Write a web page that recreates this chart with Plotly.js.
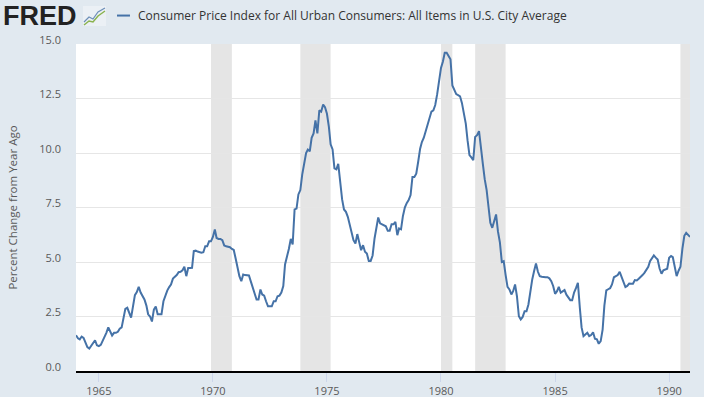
<!DOCTYPE html>
<html>
<head>
<meta charset="utf-8">
<script src="https://cdn.plot.ly/plotly-3.0.1.min.js"></script>
<style>
  html, body { margin: 0; padding: 0; background: #e1e9f0; }
  #chart { width: 704px; height: 397px; }
</style>
</head>
<body>
<div id="chart"></div>
<script>
// Consumer Price Index, percent change from year ago, monthly (Jan..Dec)
const startYear = 1964;
const y1964 = [1.64, 1.50, 1.45, 1.58, 1.52, 1.32, 1.10, 1.03, 1.14, 1.26, 1.41, 1.18];
const y1965 = [1.14, 1.20, 1.37, 1.50, 1.75, 2.00, 1.83, 1.63, 1.75, 1.75, 1.80, 1.94];
const y1966 = [2.00, 2.55, 2.85, 2.90, 2.67, 2.45, 2.95, 3.48, 3.62, 3.86, 3.60, 3.45];
const y1967 = [3.28, 3.00, 2.60, 2.50, 2.27, 2.82, 2.96, 2.60, 2.60, 2.60, 3.20, 3.45];
const y1968 = [3.69, 3.85, 3.97, 4.24, 4.30, 4.40, 4.53, 4.55, 4.62, 4.78, 4.35, 4.72];
const y1969 = [4.72, 4.73, 5.50, 5.52, 5.48, 5.45, 5.43, 5.45, 5.72, 5.72, 5.95, 5.95];
const y1970 = [6.15, 6.49, 6.10, 6.06, 6.06, 6.00, 5.76, 5.72, 5.70, 5.68, 5.60, 5.55];
const y1971 = [5.15, 4.66, 4.35, 4.12, 4.43, 4.40, 4.38, 4.38, 4.10, 3.85, 3.55, 3.28];
const y1972 = [3.28, 3.74, 3.51, 3.46, 3.20, 2.97, 2.97, 2.97, 3.20, 3.20, 3.43, 3.46];
const y1973 = [3.60, 3.90, 4.89, 5.20, 5.60, 6.06, 5.80, 7.41, 7.45, 8.10, 8.30, 9.01];
const y1974 = [9.50, 10.00, 10.16, 10.08, 10.70, 10.90, 11.50, 10.90, 11.96, 11.90, 12.22, 12.10];
const y1975 = [11.80, 11.20, 10.40, 10.16, 9.30, 9.25, 9.50, 8.63, 7.87, 7.41, 7.30, 7.07];
const y1976 = [6.70, 6.23, 6.00, 5.85, 6.28, 5.90, 5.54, 5.77, 5.47, 5.39, 5.05, 5.05];
const y1977 = [5.30, 6.08, 6.46, 7.04, 6.77, 6.72, 6.69, 6.64, 6.43, 6.43, 6.73, 6.73];
const y1978 = [6.84, 6.23, 6.54, 6.50, 7.10, 7.50, 7.70, 7.84, 8.07, 8.90, 8.90, 9.05];
const y1979 = [9.60, 10.20, 10.50, 10.70, 11.00, 11.30, 11.70, 11.90, 11.96, 12.20, 12.70, 13.40];
const y1980 = [13.90, 14.20, 14.60, 14.60, 14.45, 14.30, 13.10, 12.90, 12.70, 12.65, 12.60, 12.30];
const y1981 = [11.90, 11.35, 10.59, 9.90, 9.80, 9.67, 10.74, 10.82, 11.00, 10.10, 9.50, 8.80];
const y1982 = [8.30, 7.50, 6.80, 6.57, 6.90, 7.18, 6.40, 5.90, 5.00, 5.04, 4.40, 3.86];
const y1983 = [3.74, 3.51, 3.66, 3.97, 3.43, 2.51, 2.36, 2.48, 2.74, 2.74, 3.05, 3.74];
const y1984 = [4.20, 4.60, 4.93, 4.55, 4.35, 4.32, 4.30, 4.30, 4.30, 4.25, 4.12, 3.90];
const y1985 = [3.54, 3.66, 3.86, 3.59, 3.65, 3.71, 3.50, 3.35, 3.25, 3.25, 3.60, 3.80];
const y1986 = [4.05, 2.90, 2.00, 1.60, 1.70, 1.75, 1.60, 1.65, 1.78, 1.48, 1.45, 1.25];
const y1987 = [1.37, 1.90, 3.00, 3.70, 3.75, 3.80, 3.97, 4.30, 4.35, 4.40, 4.55, 4.30];
const y1988 = [4.05, 3.85, 3.90, 4.01, 4.00, 4.00, 4.17, 4.15, 4.23, 4.30, 4.40, 4.50];
const y1989 = [4.65, 4.78, 5.04, 5.20, 5.30, 5.20, 5.11, 4.70, 4.46, 4.62, 4.65, 4.69];
const y1990 = [5.19, 5.27, 5.22, 4.80, 4.35, 4.60, 4.78, 5.60, 6.20, 6.34, 6.22, 6.15];

const yearly = [y1964, y1965, y1966, y1967, y1968, y1969, y1970, y1971, y1972,
  y1973, y1974, y1975, y1976, y1977, y1978, y1979, y1980, y1981, y1982, y1983,
  y1984, y1985, y1986, y1987, y1988, y1989, y1990];

// Recession periods (NBER)
const recessionStarts = ['1969-12-01', '1973-11-01', '1980-01-01', '1981-07-01', '1990-07-01'];
const recessionEnds   = ['1970-11-01', '1975-03-01', '1980-07-01', '1982-11-01', '1991-03-01'];

const seriesName = 'Consumer Price Index for All Urban Consumers: All Items in U.S. City Average';
const yTickVals = [0, 2.5, 5, 7.5, 10, 12.5, 15];
const xTickVals = ['1965-01-01', '1970-01-01', '1975-01-01', '1980-01-01', '1985-01-01', '1990-01-01'];
const xTickText = ['1965', '1970', '1975', '1980', '1985', '1990'];

const dates = [], values = [];
yearly.forEach((arr, i) => {
  arr.forEach((v, m) => {
    const mm = String(m + 1).padStart(2, '0');
    dates.push((startYear + i) + '-' + mm + '-01');
    values.push(v);
  });
});
const xStart = dates[0], xEnd = dates[dates.length - 1];

const shapes = recessionStarts.map((s, i) => ({
  type: 'rect', xref: 'x', yref: 'paper',
  x0: s, x1: recessionEnds[i] > xEnd ? xEnd : recessionEnds[i],
  y0: 0, y1: 1, fillcolor: '#e5e5e5', line: { width: 0 }, layer: 'below'
}));
// header decoration: small FRED graph icon
shapes.push({ type: 'rect', xref: 'paper', yref: 'paper',
  x0: 0.0114, x1: 0.0489, y0: 1.055, y1: 1.1162,
  fillcolor: 'rgba(255,255,255,0.35)', line: { width: 0 } });
shapes.push({ type: 'path', xref: 'paper', yref: 'paper',
  path: 'M 0.01303 1.0581 L 0.02117 1.0703 L 0.02769 1.0673 L 0.03583 1.0856 L 0.04723 1.1009',
  line: { color: '#8ab34f', width: 1.5 } });
shapes.push({ type: 'path', xref: 'paper', yref: 'paper',
  path: 'M 0.01303 1.0673 L 0.02117 1.0826 L 0.02769 1.0765 L 0.03583 1.0979 L 0.04723 1.1101',
  line: { color: '#6d8fb8', width: 1.2 } });
// legend line sample
shapes.push({ type: 'line', xref: 'paper', yref: 'paper',
  x0: 0.0668, x1: 0.0879, y0: 1.087, y1: 1.087,
  line: { color: '#4572a7', width: 2 } });

const font = "'Open Sans', 'Liberation Sans', sans-serif";
const trace = {
  x: dates, y: values, type: 'scatter', mode: 'lines',
  line: { color: '#4572a7', width: 2 }, name: seriesName, hoverinfo: 'x+y'
};

const layout = {
  width: 704, height: 397,
  margin: { l: 76, r: 14, t: 44, b: 26 },
  paper_bgcolor: '#e1e9f0', plot_bgcolor: '#ffffff',
  showlegend: false,
  font: { family: font, size: 11, color: '#595959' },
  xaxis: {
    type: 'date', range: [xStart, xEnd],
    tickvals: xTickVals, ticktext: xTickText,
    ticks: 'outside', ticklen: 9, tickcolor: '#ccd6eb', tickwidth: 1,
    showgrid: false, zeroline: false,
    showline: true, linecolor: '#000000', linewidth: 2,
    tickfont: { family: font, size: 11, color: '#595959' }
  },
  yaxis: {
    range: [0, 15], tickvals: yTickVals, tickformat: '.1f',
    showgrid: true, gridcolor: '#e6e6e6', gridwidth: 1,
    zeroline: false, showline: false, ticks: '',
    ticklabelstandoff: 14, ticklabelshift: -4,
    tickfont: { family: font, size: 11, color: '#595959' },
    title: { text: 'Percent Change from Year Ago', font: { family: font, size: 11.5, color: '#595959' }, standoff: 19 }
  },
  shapes: shapes,
  annotations: [
    { xref: 'paper', yref: 'paper', x: -0.1221, y: 1.087, xanchor: 'left', yanchor: 'middle',
      text: '<b>FRED</b>', showarrow: false,
      font: { family: "'Liberation Sans', Arial, sans-serif", size: 27, color: '#222222' } },
    { xref: 'paper', yref: 'paper', x: 0.0977, y: 1.087, xanchor: 'left', yanchor: 'middle',
      text: seriesName, showarrow: false,
      font: { family: font, size: 12, color: '#333333' } }
  ]
};

Plotly.newPlot('chart', [trace], layout, { staticPlot: true, displayModeBar: false });
</script>
</body>
</html>
